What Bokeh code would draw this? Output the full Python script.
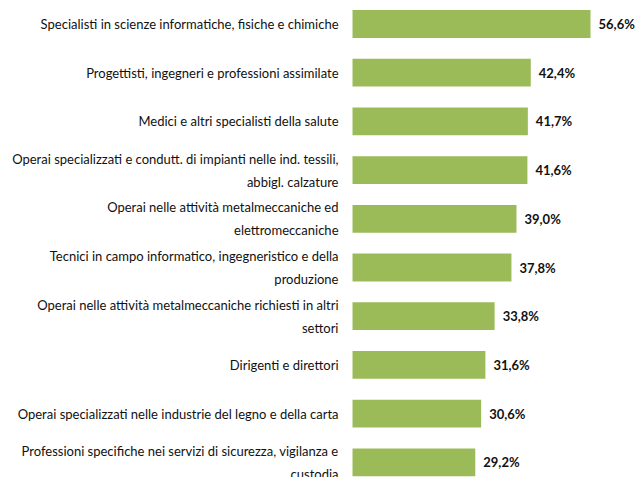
from bokeh.plotting import figure
from bokeh.models import ColumnDataSource, Range1d
from bokeh.core.properties import value
from bokeh.embed import file_html
from bokeh.resources import INLINE

categories = [
    "Specialisti in scienze informatiche, fisiche e chimiche",
    "Progettisti, ingegneri e professioni assimilate",
    "Medici e altri specialisti della salute",
    "Operai specializzati e condutt. di impianti nelle ind. tessili,\nabbigl. calzature",
    "Operai nelle attività metalmeccaniche ed\nelettromeccaniche",
    "Tecnici in campo informatico, ingegneristico e della\nproduzione",
    "Operai nelle attività metalmeccaniche richiesti in altri\nsettori",
    "Dirigenti e direttori",
    "Operai specializzati nelle industrie del legno e della carta",
    "Professioni specifiche nei servizi di sicurezza, vigilanza e\ncustodia",
]
values = [56.6, 42.4, 41.7, 41.6, 39.0, 37.8, 33.8, 31.6, 30.6, 29.2]
value_labels = ["56,6%", "42,4%", "41,7%", "41,6%", "39,0%", "37,8%", "33,8%", "31,6%", "30,6%", "29,2%"]

positions = list(range(len(categories)))
src = ColumnDataSource(dict(y=positions, v=values, cat=categories, lab=value_labels,
                            zero=[0] * len(values)))

W, H = 635, 477
px_per_unit_x = 4.205
x0_px = 352
px_per_cat = 48.7
top_px = 23.5

x_start = -x0_px / px_per_unit_x
x_end = (W - x0_px) / px_per_unit_x
y_top = -top_px / px_per_cat
y_bottom = y_top + H / px_per_cat

p = figure(width=W, height=H, output_backend="svg", toolbar_location=None,
           x_range=Range1d(x_start, x_end), y_range=Range1d(y_bottom, y_top),
           min_border=0, min_border_left=0, min_border_right=0,
           min_border_top=0, min_border_bottom=0)
p.axis.visible = False
p.grid.visible = False
p.outline_line_color = None
p.background_fill_color = "white"
p.border_fill_color = "white"

p.hbar(y="y", left="zero", right="v", height=0.57, source=src,
       fill_color="#9BBB59", line_color=None)

p.text(x="zero", y="y", text="cat", source=src, x_offset=-14,
       text_align="right", text_baseline="middle",
       text_font=value("Lato"), text_font_size="13px",
       text_color="#111111", text_line_height=1.45)

p.text(x="v", y="y", text="lab", source=src, x_offset=8,
       text_align="left", text_baseline="middle",
       text_font=value("Lato"), text_font_size="13px",
       text_font_style="bold", text_color="#111111")

open("out.html", "w").write(file_html(p, INLINE))
